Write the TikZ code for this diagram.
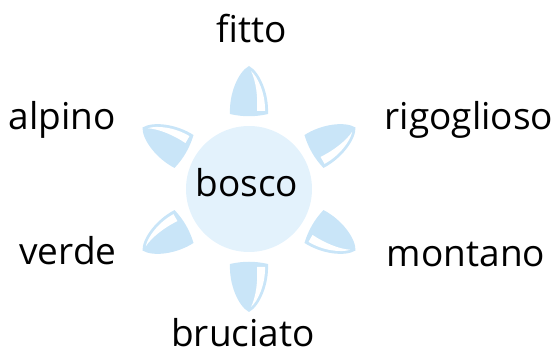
\documentclass[tikz,border=0pt]{standalone}
\usepackage{fontspec}
\setmainfont{Open Sans}
\definecolor{petal}{RGB}{201,229,248}
\definecolor{core}{RGB}{227,242,252}
\newcommand\drawpetal[2]{%
  \begin{scope}[shift={(core.center)}, rotate=#1, yscale=#2]
    \fill[petal] (75,-19) .. controls (95,-20) and (117,-11) .. (123,0)
      .. controls (117,11) and (95,20) .. (75,19)
      .. controls (72,6) and (72,-6) .. (75,-19) -- cycle;
    \fill[white] (78,-16) .. controls (95,-16.5) and (112,-9) .. (118,-2)
      .. controls (108,-7) and (92,-9) .. (78,-8) -- cycle;
  \end{scope}}
\begin{document}
\begin{tikzpicture}[x=1pt,y=1pt,
  word/.style={font=\fontsize{37}{40}\selectfont, anchor=base, inner sep=0pt}]
\useasboundingbox (0,0) rectangle (555,356);
\node[circle, fill=core, minimum size=126pt, inner sep=0pt] (core) at (249,167) {};
\drawpetal{90}{1}
\drawpetal{30}{1}
\drawpetal{-30}{1}
\drawpetal{-90}{-1}
\drawpetal{-150}{1}
\drawpetal{150}{1}
\node[word] (bosco) at (247,159) {bosco};
\node[word] (fitto) at (252,313) {fitto};
\node[word] (alpino) at (62,226) {alpino};
\node[word] (rigoglioso) at (469,226) {rigoglioso};
\node[word] (verde) at (68,91) {verde};
\node[word] (montano) at (466,89) {montano};
\node[word] (bruciato) at (243,9) {bruciato};
\end{tikzpicture}
\end{document}
